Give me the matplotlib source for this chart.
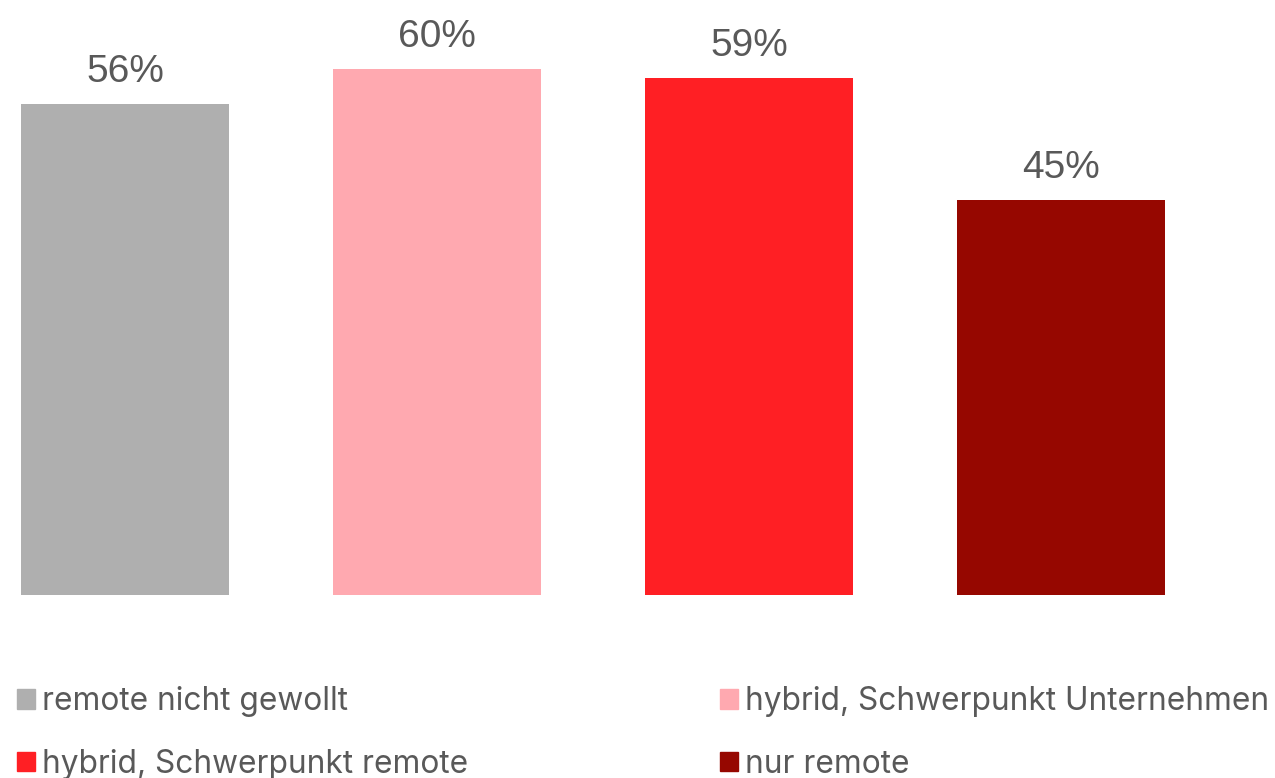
import matplotlib.pyplot as plt
from matplotlib.patches import Patch

categories = ["remote nicht gewollt", "hybrid, Schwerpunkt Unternehmen",
              "hybrid, Schwerpunkt remote", "nur remote"]
values = [56, 60, 59, 45]
colors = ["#AFAFAF", "#FFA9B0", "#FF1F24", "#960700"]
text_color = "#595959"

fig = plt.figure(figsize=(12.75, 7.78), dpi=100)
ax = fig.add_axes([0, 183 / 778, 1, 595 / 778])

x = list(range(len(values)))
bars = ax.bar(x, values, width=0.667, color=colors)
for b, v in zip(bars, values):
    ax.annotate(f"{v}%", (b.get_x() + b.get_width() / 2, v), xytext=(0, 10),
                textcoords="offset points", ha="center", va="bottom",
                fontsize=28, color=text_color, family="Liberation Sans")

ax.set_xlim(-125 / 312, 1150 / 312)
ax.set_ylim(0, 595 / 8.77)
ax.axis("off")

# legend order: column-first fill -> rows: (gray, pink), (red, darkred)
order = [0, 2, 1, 3]
handles = [Patch(color=colors[i], label=categories[i]) for i in order]
fig.legend(handles=handles, loc="upper left", bbox_to_anchor=(17 / 1275, 0.118),
           ncol=2, frameon=False, borderpad=0, borderaxespad=0,
           handlelength=0.57, handleheight=0.57,
           handletextpad=0.22, columnspacing=7.95, labelspacing=1.0,
           prop={"family": "Inter", "size": 22.8}, labelcolor=text_color)

fig.savefig("out.png", dpi=100)
